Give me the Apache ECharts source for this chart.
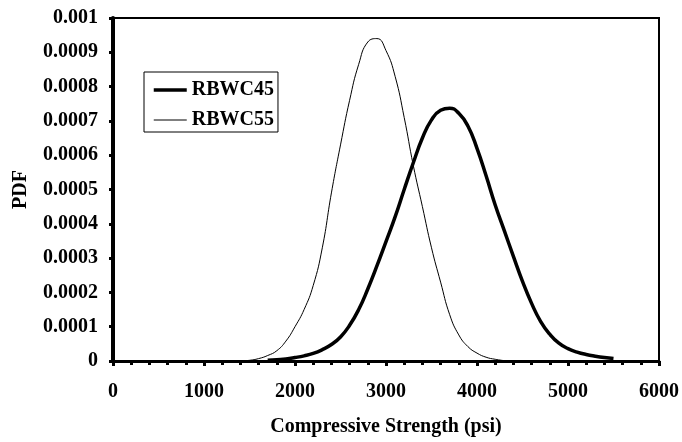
<!DOCTYPE html>
<html>
<head>
<meta charset="utf-8">
<script src="https://cdn.jsdelivr.net/npm/echarts@6/dist/echarts.min.js"></script>
<style>
html,body{margin:0;padding:0;background:#fff;}
#chart{width:682px;height:442px;}
</style>
</head>
<body>
<div id="chart"></div>
<script>
// Data
const rbwc55X = [1400,1500,1600,1700,1800,1900,2000,2100,2200,2300,2400,2500,2600,2700,2800,2900,3000,3100,3200,3300,3400,3500,3600,3700,3800,3900,4000,4100,4200,4300];
const rbwc55Y = [0,0.000002,0.000007,0.000016,0.000030,0.000058,0.0001,0.00015,0.00022,0.00033,0.00049,0.00063,0.00076,0.000865,0.00093,0.00094,0.000905,0.00083,0.00071,0.00057,0.00045,0.00033,0.00023,0.000135,0.000076,0.000042,0.000023,0.000011,0.000005,0.000001];

const rbwc45X = [1700,1800,1900,2000,2100,2200,2300,2400,2500,2600,2700,2800,2900,3000,3100,3200,3300,3400,3500,3600,3700,3800,3900,4000,4100,4200,4300,4400,4500,4600,4700,4800,4900,5000,5100,5200,5300,5400,5500];
const rbwc45Y = [0.000002,0.000004,0.000006,0.00001,0.000015,0.000022,0.000033,0.000048,0.00007,0.000104,0.00015,0.00021,0.000277,0.000348,0.00042,0.0005,0.000578,0.00065,0.000703,0.000731,0.000737,0.000722,0.000685,0.00062,0.00054,0.000455,0.00038,0.000305,0.000232,0.000168,0.000115,0.000078,0.000052,0.000036,0.000026,0.000019,0.000014,0.00001,0.000007];

const seriesNames = ['RBWC45','RBWC55'];
const xAxisTitle = 'Compressive Strength (psi)';
const yAxisTitle = 'PDF';

function zip(xs, ys){ return xs.map((x,i)=>[x, ys[i]]); }

const FONT = '"Liberation Serif","Times New Roman",serif';
const FS = 20;
const W45 = 3.5, W55 = 1;
const chart = echarts.init(document.getElementById('chart'), null, {renderer:'canvas'});
chart.setOption({
  animation:false,
  backgroundColor:'#fff',
  grid:{left:113,right:21,top:18,bottom:80,show:true,borderColor:'#000',borderWidth:2,backgroundColor:'transparent'},
  legend:{
    orient:'vertical', left:144, top:72,
    data:[
      {name:seriesNames[0], lineStyle:{color:'#000',width:W45}},
      {name:seriesNames[1], lineStyle:{color:'#000',width:W55}}
    ],
    borderColor:'#000', borderWidth:1, borderRadius:0,
    padding:[8,4,2,8], itemGap:10,
    itemWidth:33, itemHeight:14,
    itemStyle:{opacity:0, color:'transparent', borderWidth:0},
    textStyle:{fontFamily:FONT,fontWeight:'bold',fontSize:FS,color:'#000'}
  },
  xAxis:{
    type:'value', min:0, max:6000, interval:1000,
    name:xAxisTitle, nameLocation:'middle', nameGap:56,
    nameTextStyle:{fontFamily:FONT,fontWeight:'bold',fontSize:FS,color:'#000'},
    axisLine:{show:true,lineStyle:{color:'#000',width:3}},
    axisTick:{show:true,inside:false,length:5,lineStyle:{color:'#000',width:3}},
    minorTick:{show:true,splitNumber:5,length:4,lineStyle:{color:'#000',width:3}},
    axisLabel:{fontFamily:FONT,fontWeight:'bold',fontSize:FS,color:'#000',margin:21,
      formatter:function(v){ return String(v); }},
    splitLine:{show:false}
  },
  yAxis:{
    type:'value', min:0, max:0.001, interval:0.0001,
    name:yAxisTitle, nameLocation:'middle', nameGap:82, nameRotate:90,
    nameTextStyle:{fontFamily:FONT,fontWeight:'bold',fontSize:FS,color:'#000'},
    axisLine:{show:true,lineStyle:{color:'#000',width:4}},
    axisTick:{show:true,inside:false,length:4,lineStyle:{color:'#000',width:3}},
    axisLabel:{fontFamily:FONT,fontWeight:'bold',fontSize:FS,color:'#000',margin:15,
      formatter:function(v){ if(v===0) return '0'; return v.toFixed(4).replace(/0+$/,''); }},
    splitLine:{show:false}
  },
  series:[
    {name:seriesNames[0], type:'line', data:zip(rbwc45X, rbwc45Y), smooth:true, showSymbol:false, symbol:'none',
     lineStyle:{color:'#000',width:W45}, itemStyle:{color:'#000'}, z:3},
    {name:seriesNames[1], type:'line', data:zip(rbwc55X, rbwc55Y), smooth:true, showSymbol:false, symbol:'none',
     lineStyle:{color:'#000',width:W55}, itemStyle:{color:'#000'}, z:2}
  ]
});
</script>
</body>
</html>
